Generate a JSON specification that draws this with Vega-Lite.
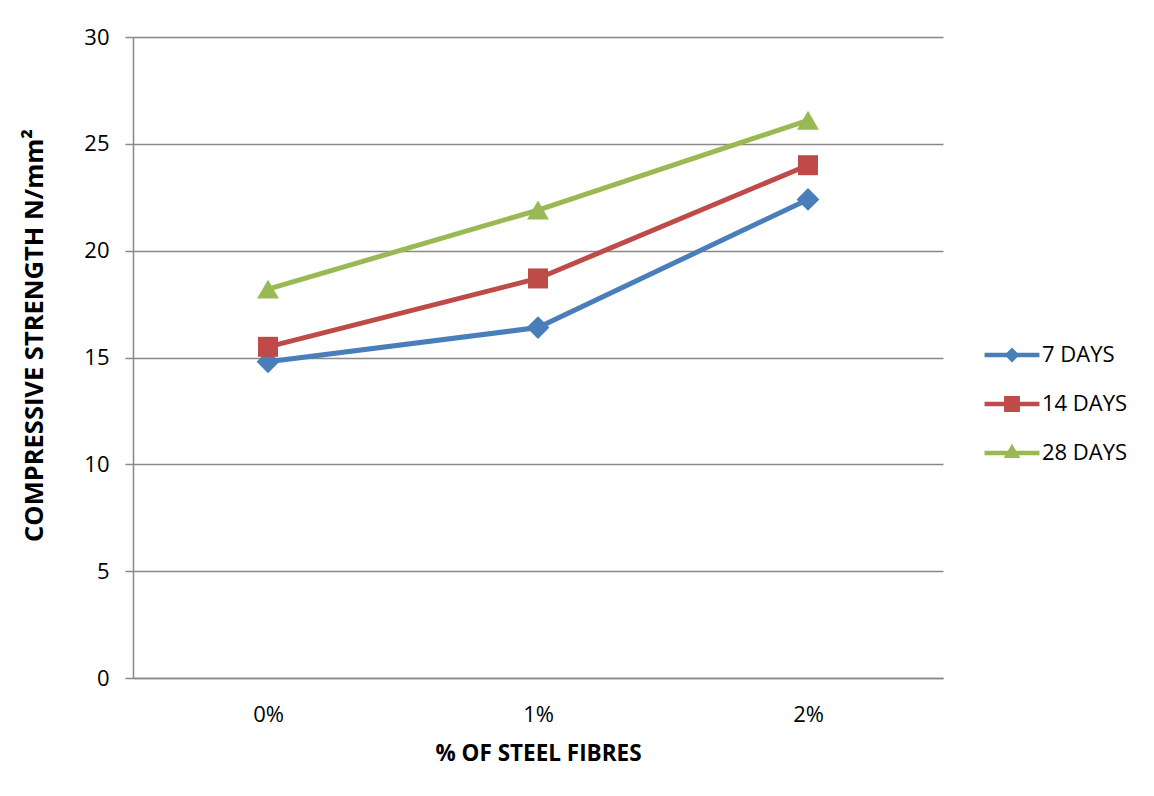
{
  "$schema": "https://vega.github.io/schema/vega-lite/v6.json",
  "width": 810,
  "height": 641,
  "autosize": {"type": "none"},
  "padding": {"left": 133, "top": 37, "right": 211, "bottom": 118},
  "background": "white",
  "config": {
    "view": {"stroke": null},
    "font": "Open Sans",
    "legend": {"symbolOpacity": 1}
  },
  "data": {
    "values": [
      {"fibre": "0%", "age": "7 DAYS", "strength": 14.8},
      {"fibre": "1%", "age": "7 DAYS", "strength": 16.4},
      {"fibre": "2%", "age": "7 DAYS", "strength": 22.4},
      {"fibre": "0%", "age": "14 DAYS", "strength": 15.5},
      {"fibre": "1%", "age": "14 DAYS", "strength": 18.7},
      {"fibre": "2%", "age": "14 DAYS", "strength": 24.0},
      {"fibre": "0%", "age": "28 DAYS", "strength": 18.2},
      {"fibre": "1%", "age": "28 DAYS", "strength": 21.9},
      {"fibre": "2%", "age": "28 DAYS", "strength": 26.1}
    ]
  },
  "encoding": {
    "x": {
      "field": "fibre",
      "type": "ordinal",
      "sort": ["0%", "1%", "2%"],
      "scale": {"type": "point", "padding": 0.5},
      "axis": {
        "title": "% OF STEEL FIBRES",
        "labelAngle": 0,
        "grid": false,
        "ticks": false,
        "tickSize": 0,
        "domainColor": "#888888",
        "domainWidth": 1.5,
        "labelFont": "Open Sans",
        "labelFontSize": 22,
        "labelColor": "black",
        "labelBaseline": "alphabetic",
        "labelPadding": 43,
        "titleFont": "Open Sans",
        "titleFontSize": 22.5,
        "titleFontWeight": "bold",
        "titleColor": "black",
        "titleBaseline": "alphabetic",
        "titleY": 82
      }
    },
    "y": {
      "field": "strength",
      "type": "quantitative",
      "scale": {"domain": [0, 30], "nice": false},
      "axis": {
        "title": "COMPRESSIVE STRENGTH N/mm²",
        "values": [0, 5, 10, 15, 20, 25, 30],
        "domainColor": "#888888",
        "domainWidth": 1.5,
        "tickColor": "#888888",
        "tickWidth": 1.5,
        "tickSize": 8,
        "gridColor": "#888888",
        "gridWidth": 1.5,
        "labelFont": "Open Sans",
        "labelFontSize": 22,
        "labelColor": "black",
        "labelPadding": 16,
        "titleFont": "Open Sans",
        "titleFontSize": 25.5,
        "titleFontWeight": "bold",
        "titleColor": "black",
        "titleBaseline": "alphabetic",
        "titleX": -91,
        "titleY": 298
      }
    },
    "color": {
      "field": "age",
      "type": "nominal",
      "sort": ["7 DAYS", "14 DAYS", "28 DAYS"],
      "scale": {
        "domain": ["7 DAYS", "14 DAYS", "28 DAYS"],
        "range": ["#4A7EBB", "#BE4B48", "#98B954"]
      },
      "legend": {
        "title": null,
        "orient": "none",
        "legendX": 864,
        "legendY": 303,
        "padding": 0,
        "symbolSize": 900,
        "symbolOpacity": 1,
        "symbolStrokeWidth": 0,
        "rowPadding": 23,
        "labelOffset": 15,
        "labelFont": "Open Sans",
        "labelFontSize": 22,
        "labelColor": "black"
      }
    }
  },
  "layer": [
    {"mark": {"type": "line", "strokeWidth": 5}},
    {
      "transform": [{"filter": "datum.age === '7 DAYS'"}],
      "mark": {"type": "point", "shape": "diamond", "filled": true, "size": 520, "opacity": 1}
    },
    {
      "transform": [{"filter": "datum.age === '14 DAYS'"}],
      "mark": {"type": "point", "shape": "square", "filled": true, "size": 400, "opacity": 1}
    },
    {
      "transform": [{"filter": "datum.age === '28 DAYS'"}],
      "mark": {"type": "point", "shape": "triangle-up", "filled": true, "size": 480, "opacity": 1}
    },
    {
      "mark": {"type": "point", "filled": true, "opacity": 0},
      "encoding": {
        "shape": {
          "field": "age",
          "type": "nominal",
          "sort": ["7 DAYS", "14 DAYS", "28 DAYS"],
          "scale": {
            "domain": ["7 DAYS", "14 DAYS", "28 DAYS"],
            "range": [
              "M-1.83,-0.15H1.83V0.15H-1.83Z M0,-0.5L0.5,0L0,0.5L-0.5,0Z",
              "M-1.83,-0.15H1.83V0.15H-1.83Z M-0.53,-0.53H0.53V0.53H-0.53Z",
              "M-1.83,-0.15H1.83V0.15H-1.83Z M0,-0.62L0.55,0.33H-0.55Z"
            ]
          },
          "legend": {
            "title": null,
            "orient": "none",
            "legendX": 864,
            "legendY": 303,
            "padding": 0,
            "symbolSize": 900,
            "symbolOpacity": 1,
            "symbolStrokeWidth": 0,
            "rowPadding": 23,
            "labelOffset": 15,
            "labelFont": "Open Sans",
            "labelFontSize": 22,
            "labelColor": "black"
          }
        }
      }
    }
  ]
}
